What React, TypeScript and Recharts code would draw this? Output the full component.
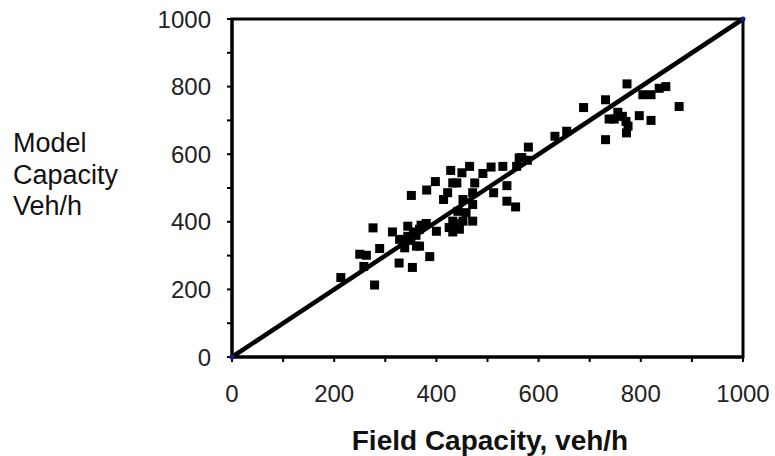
import {
  ReferenceArea,
  Scatter,
  ScatterChart,
  XAxis,
  YAxis,
} from "recharts";

// Field vs model capacity, veh/h
const fieldCapacity = [
  213, 279, 250, 263, 258, 276, 289, 314, 327, 353, 338, 328, 344, 361, 367,
  344, 367, 380, 400, 387, 351, 381, 398, 414, 422, 432, 440, 428, 450, 465,
  491, 507, 530, 557, 562, 580, 578, 471, 475, 512, 538, 538, 555, 452, 471,
  458, 442, 432, 452, 471, 445, 432, 350, 355, 335, 370, 360, 425, 435, 567,
  632, 655, 688, 731, 731, 755, 738, 748, 764, 771, 775, 772, 797, 820, 773,
  804, 820, 836, 849, 875,
];
const modelCapacity = [
  235, 213, 304, 301, 268, 382, 321, 370, 278, 265, 323, 348, 357, 328, 328,
  387, 378, 395, 372, 297, 478, 494, 519, 466, 486, 515, 515, 552, 545, 564,
  543, 562, 564, 564, 589, 621, 582, 486, 515, 486, 507, 461, 444, 466, 451,
  427, 431, 402, 402, 402, 378, 370, 345, 370, 335, 390, 360, 383, 395, 590,
  653, 668, 738, 761, 643, 724, 704, 704, 712, 697, 683, 663, 714, 700, 808,
  776, 776, 795, 800, 741,
];

// 1:1 line end points
const lineX = [0, 1000];
const lineY = [0, 1000];

const axisTicks = [0, 100, 200, 300, 400, 500, 600, 700, 800, 900, 1000];
const yLabelLines = ["Model", "Capacity", "Veh/h"];
const xLabel = "Field Capacity, veh/h";

const points = fieldCapacity.map((x, i) => ({ x, y: modelCapacity[i] }));
const diagonal = lineX.map((x, i) => ({ x, y: lineY[i] }));

const font = "'Liberation Sans', Arial, sans-serif";
const tickStyle = { fill: "#222", fontSize: 24, fontFamily: font };
const showEvery200 = (v: number) => (v % 200 === 0 ? String(v) : "");

function Square(props: any) {
  const { cx, cy } = props;
  if (cx == null || cy == null) return null;
  return <rect x={cx - 4.5} y={cy - 4.5} width={9} height={9} fill="#000" />;
}

function EndDot(props: any) {
  const { cx, cy } = props;
  if (cx == null || cy == null) return null;
  return <circle cx={cx} cy={cy} r={2.5} fill="#1a1a8c" />;
}

export default function App() {
  return (
    <div style={{ position: "absolute", left: 0, top: 0, background: "#fff" }}>
      <ScatterChart
        width={775}
        height={456}
        margin={{ top: 19, right: 32, bottom: 0, left: 0 }}
      >
        <ReferenceArea
          x1={0}
          x2={1000}
          y1={0}
          y2={1000}
          fill="none"
          fillOpacity={0}
          stroke="#000"
          strokeWidth={3}
          ifOverflow="visible"
        />
        <XAxis
          type="number"
          dataKey="x"
          domain={[0, 1000]}
          ticks={axisTicks}
          tickFormatter={showEvery200}
          interval={0}
          height={99}
          tick={tickStyle}
          tickSize={5}
          tickMargin={23}
          tickLine={{ stroke: "#000", strokeWidth: 2 }}
          axisLine={{ stroke: "#000", strokeWidth: 3 }}
          label={{
            content: () => (
              <text
                x={490}
                y={450}
                textAnchor="middle"
                fontFamily={font}
                fontWeight="bold"
                fontSize={28}
                fill="#111"
              >
                {xLabel}
              </text>
            ),
          }}
        />
        <YAxis
          type="number"
          dataKey="y"
          domain={[0, 1000]}
          ticks={axisTicks}
          tickFormatter={showEvery200}
          interval={0}
          width={232}
          tick={tickStyle}
          tickSize={5}
          tickMargin={16}
          tickLine={{ stroke: "#000", strokeWidth: 2 }}
          axisLine={{ stroke: "#000", strokeWidth: 3 }}
          label={{
            content: () => (
              <text fontFamily={font} fontSize={27} fill="#111">
                {yLabelLines.map((t, i) => (
                  <tspan key={t} x={13} y={152 + i * 31.5}>
                    {t}
                  </tspan>
                ))}
              </text>
            ),
          }}
        />
        <Scatter data={points} shape={<Square />} isAnimationActive={false} />
        <Scatter
          data={diagonal}
          line={{ stroke: "#000", strokeWidth: 4.5 }}
          lineType="joint"
          shape={<EndDot />}
          isAnimationActive={false}
        />
      </ScatterChart>
    </div>
  );
}
